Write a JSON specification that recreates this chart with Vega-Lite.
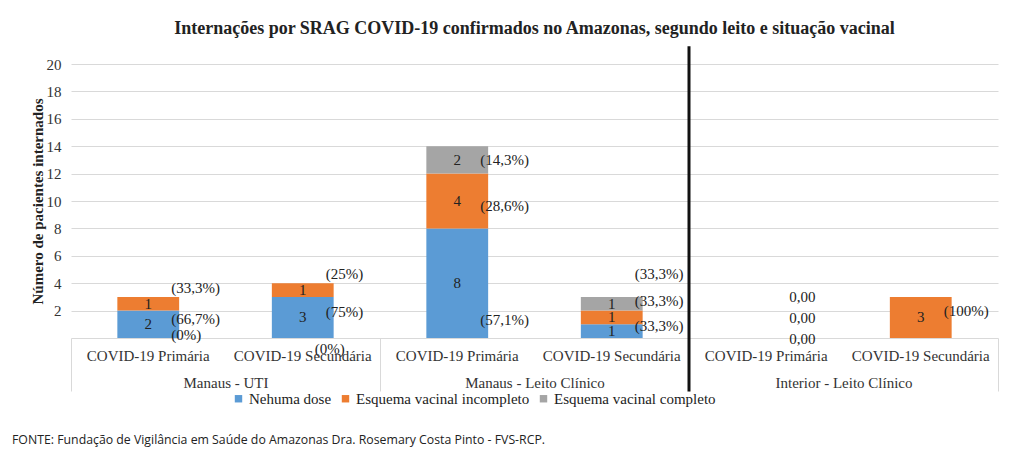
{
  "$schema": "https://vega.github.io/schema/vega-lite/v6.json",
  "padding": {"left": 12, "top": 19, "right": 24, "bottom": 4},
  "background": "white",
  "config": {
    "view": {"stroke": null},
    "font": "Liberation Serif",
    "axis": {"labelFont": "Liberation Serif", "titleFont": "Liberation Serif"},
    "legend": {"labelFont": "Liberation Serif"}
  },
  "title": {
    "text": "FONTE: Fundação de Vigilância em Saúde do Amazonas Dra. Rosemary Costa Pinto - FVS-RCP.",
    "orient": "bottom", "anchor": "start", "font": "Open Sans", "fontSize": 12.3,
    "fontWeight": "normal", "color": "#222", "offset": 27, "dx": -18
  },
  "vconcat": [
    {
      "width": 927,
      "height": 274,
      "title": {
        "text": "Internações por SRAG COVID-19 confirmados no Amazonas, segundo leito e situação vacinal",
        "font": "Liberation Serif", "fontSize": 18, "fontWeight": "bold", "color": "#222",
        "anchor": "middle", "offset": 7
      },
      "data": {
        "values": [
          {"grupo": "Manaus - UTI", "cat": "Manaus - UTI|COVID-19 Primária", "serie": "Nehuma dose", "ordem": 1, "n": 2, "pct": "(66,7%)"},
          {"grupo": "Manaus - UTI", "cat": "Manaus - UTI|COVID-19 Primária", "serie": "Esquema vacinal incompleto", "ordem": 2, "n": 1, "pct": "(33,3%)"},
          {"grupo": "Manaus - UTI", "cat": "Manaus - UTI|COVID-19 Primária", "serie": "Esquema vacinal completo", "ordem": 3, "n": 0, "pct": "(0%)"},
          {"grupo": "Manaus - UTI", "cat": "Manaus - UTI|COVID-19 Secundária", "serie": "Nehuma dose", "ordem": 1, "n": 3, "pct": "(75%)"},
          {"grupo": "Manaus - UTI", "cat": "Manaus - UTI|COVID-19 Secundária", "serie": "Esquema vacinal incompleto", "ordem": 2, "n": 1, "pct": "(25%)"},
          {"grupo": "Manaus - UTI", "cat": "Manaus - UTI|COVID-19 Secundária", "serie": "Esquema vacinal completo", "ordem": 3, "n": 0, "pct": "(0%)"},
          {"grupo": "Manaus - Leito Clínico", "cat": "Manaus - Leito Clínico|COVID-19 Primária", "serie": "Nehuma dose", "ordem": 1, "n": 8, "pct": "(57,1%)"},
          {"grupo": "Manaus - Leito Clínico", "cat": "Manaus - Leito Clínico|COVID-19 Primária", "serie": "Esquema vacinal incompleto", "ordem": 2, "n": 4, "pct": "(28,6%)"},
          {"grupo": "Manaus - Leito Clínico", "cat": "Manaus - Leito Clínico|COVID-19 Primária", "serie": "Esquema vacinal completo", "ordem": 3, "n": 2, "pct": "(14,3%)"},
          {"grupo": "Manaus - Leito Clínico", "cat": "Manaus - Leito Clínico|COVID-19 Secundária", "serie": "Nehuma dose", "ordem": 1, "n": 1, "pct": "(33,3%)"},
          {"grupo": "Manaus - Leito Clínico", "cat": "Manaus - Leito Clínico|COVID-19 Secundária", "serie": "Esquema vacinal incompleto", "ordem": 2, "n": 1, "pct": "(33,3%)"},
          {"grupo": "Manaus - Leito Clínico", "cat": "Manaus - Leito Clínico|COVID-19 Secundária", "serie": "Esquema vacinal completo", "ordem": 3, "n": 1, "pct": "(33,3%)"},
          {"grupo": "Interior - Leito Clínico", "cat": "Interior - Leito Clínico|COVID-19 Primária", "serie": "Nehuma dose", "ordem": 1, "n": 0, "pct": "0,00"},
          {"grupo": "Interior - Leito Clínico", "cat": "Interior - Leito Clínico|COVID-19 Primária", "serie": "Esquema vacinal incompleto", "ordem": 2, "n": 0, "pct": "0,00"},
          {"grupo": "Interior - Leito Clínico", "cat": "Interior - Leito Clínico|COVID-19 Primária", "serie": "Esquema vacinal completo", "ordem": 3, "n": 0, "pct": "0,00"},
          {"grupo": "Interior - Leito Clínico", "cat": "Interior - Leito Clínico|COVID-19 Secundária", "serie": "Nehuma dose", "ordem": 1, "n": 0, "pct": ""},
          {"grupo": "Interior - Leito Clínico", "cat": "Interior - Leito Clínico|COVID-19 Secundária", "serie": "Esquema vacinal incompleto", "ordem": 2, "n": 3, "pct": "(100%)"},
          {"grupo": "Interior - Leito Clínico", "cat": "Interior - Leito Clínico|COVID-19 Secundária", "serie": "Esquema vacinal completo", "ordem": 3, "n": 0, "pct": ""}
        ]
      },
      "resolve": {"scale": {"x": "independent", "y": "independent"}, "axis": {"x": "independent", "y": "independent"}},
      "layer": [
        {
          "encoding": {
            "x": {
              "field": "cat", "type": "nominal", "sort": null,
              "scale": {"paddingInner": 0.6, "paddingOuter": 0.3},
              "axis": {
                "orient": "bottom", "title": null, "labelAngle": 0, "ticks": false,
                "domainColor": "#d9d9d9", "labelExpr": "split(datum.label, '|')[1]",
                "labelFont": "Liberation Serif", "labelFontSize": 15, "labelColor": "#333",
                "labelPadding": 10, "labelLimit": 300, "grid": false
              }
            }
          },
          "layer": [
            {
              "mark": {"type": "bar"},
              "encoding": {
                "y": {
                  "field": "n", "type": "quantitative", "stack": "zero",
                  "scale": {"domain": [0, 20], "nice": false},
                  "axis": {
                    "values": [2, 4, 6, 8, 10, 12, 14, 16, 18, 20], "labelOverlap": false,
                    "title": "Número de pacientes internados", "titleFont": "Liberation Serif",
                    "titleFontSize": 15, "titleFontWeight": "bold", "titleColor": "#222",
                    "titlePadding": 1, "labelFont": "Liberation Serif", "labelFontSize": 15,
                    "labelColor": "#333", "labelPadding": 10, "domain": false, "ticks": false,
                    "gridColor": "#d9d9d9"
                  }
                },
                "color": {
                  "field": "serie", "type": "nominal",
                  "scale": {
                    "domain": ["Nehuma dose", "Esquema vacinal incompleto", "Esquema vacinal completo"],
                    "range": ["#5b9bd5", "#ed7d31", "#a5a5a5"]
                  },
                  "legend": {
                    "orient": "none", "legendX": 160, "legendY": 327, "direction": "horizontal", "title": null,
                    "symbolType": "square", "symbolSize": 55, "symbolStrokeWidth": 0, "symbolOffset": 0,
                    "labelFont": "Liberation Serif", "labelFontSize": 15, "labelColor": "#222",
                    "labelOffset": 3, "columnPadding": 6, "labelLimit": 300
                  }
                },
                "order": {"field": "ordem", "type": "quantitative"}
              }
            },
            {
              "transform": [{"filter": "datum.n > 0"}],
              "mark": {"type": "text", "font": "Liberation Serif", "fontSize": 15, "color": "#222"},
              "encoding": {
                "y": {
                  "field": "n", "type": "quantitative", "stack": "zero", "bandPosition": 0.5,
                  "scale": {"domain": [0, 20], "nice": false},
                  "axis": {
                    "values": [2, 4, 6, 8, 10, 12, 14, 16, 18, 20], "labelOverlap": false,
                    "title": "Número de pacientes internados", "titleFont": "Liberation Serif",
                    "titleFontSize": 15, "titleFontWeight": "bold", "titleColor": "#222",
                    "titlePadding": 1, "labelFont": "Liberation Serif", "labelFontSize": 15,
                    "labelColor": "#333", "labelPadding": 10, "domain": false, "ticks": false,
                    "gridColor": "#d9d9d9"
                  }
                },
                "order": {"field": "ordem", "type": "quantitative"},
                "detail": {"field": "serie"},
                "text": {"field": "n", "type": "quantitative"}
              }
            },
            {
              "transform": [{"filter": "datum.pct != ''"}],
              "mark": {
                "type": "text", "font": "Liberation Serif", "fontSize": 15, "color": "#222", "align": "left",
                "dx": {"expr": "datum.n == 0 && datum.cat == 'Manaus - UTI|COVID-19 Secundária' ? 12 : 23"},
                "dy": {"expr": "datum.n == 0 ? (datum.grupo == 'Interior - Leito Clínico' ? (datum.ordem == 1 ? 1 : datum.ordem == 2 ? -20 : -41) : (datum.cat == 'Manaus - UTI|COVID-19 Primária' ? 38 : 66)) : datum.cat == 'Manaus - Leito Clínico|COVID-19 Primária' ? (datum.ordem == 1 ? 37 : datum.ordem == 2 ? 5 : 0) : datum.grupo == 'Interior - Leito Clínico' ? -6 : (datum.ordem == 1 ? -5 : datum.ordem == 2 ? -16 : -30)"}
              },
              "encoding": {
                "y": {
                  "field": "n", "type": "quantitative", "stack": "zero", "bandPosition": 0.5,
                  "scale": {"domain": [0, 20], "nice": false},
                  "axis": {
                    "values": [2, 4, 6, 8, 10, 12, 14, 16, 18, 20], "labelOverlap": false,
                    "title": "Número de pacientes internados", "titleFont": "Liberation Serif",
                    "titleFontSize": 15, "titleFontWeight": "bold", "titleColor": "#222",
                    "titlePadding": 1, "labelFont": "Liberation Serif", "labelFontSize": 15,
                    "labelColor": "#333", "labelPadding": 10, "domain": false, "ticks": false,
                    "gridColor": "#d9d9d9"
                  }
                },
                "order": {"field": "ordem", "type": "quantitative"},
                "detail": {"field": "serie"},
                "text": {"field": "pct"}
              }
            }
          ]
        },
        {
          "transform": [{"filter": "datum.cat == 'Interior - Leito Clínico|COVID-19 Primária' && datum.ordem == 1"}],
          "mark": {"type": "rule", "color": "#111", "strokeWidth": 3, "clip": false},
          "encoding": {
            "x": {
              "field": "grupo", "type": "nominal", "bandPosition": 0,
              "scale": {"domain": ["Manaus - UTI", "Manaus - Leito Clínico", "Interior - Leito Clínico"], "paddingInner": 0, "paddingOuter": 0},
              "axis": {
                "orient": "bottom", "title": null, "labelAngle": 0, "domain": false,
                "ticks": true, "tickBand": "extent", "tickSize": 53, "tickColor": "#d9d9d9",
                "labelPadding": -16, "labelFont": "Liberation Serif", "labelFontSize": 15,
                "labelColor": "#333", "labelLimit": 300, "grid": false
              }
            },
            "y": {"datum": 21.3, "type": "quantitative", "scale": {"domain": [0, 20], "nice": false}, "axis": null},
            "y2": {"datum": -3.9}
          }
        }
      ]
    }
  ]
}
